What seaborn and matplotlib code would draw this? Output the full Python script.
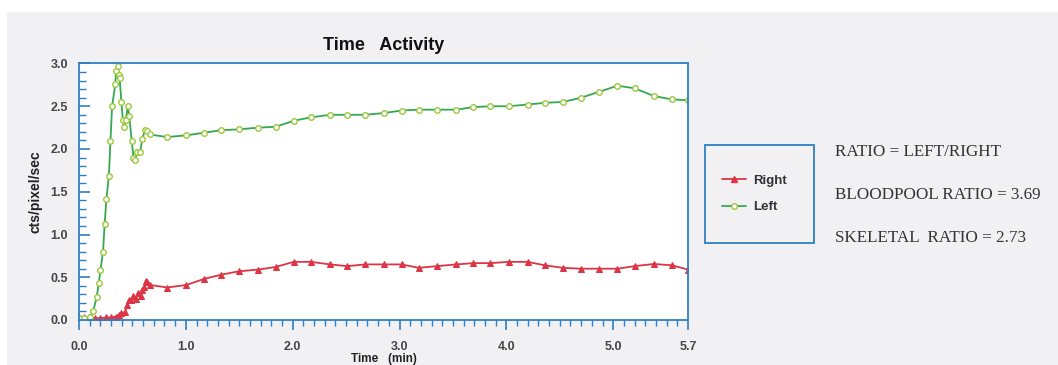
import numpy as np
import pandas as pd
import seaborn as sns
import matplotlib
matplotlib.use("Agg")
import matplotlib.pyplot as plt
from matplotlib.patches import Rectangle
from matplotlib.lines import Line2D
from matplotlib.ticker import MultipleLocator, FixedLocator

# Time-activity curves (cts/pixel/sec vs minutes)
t_left = [0.00, 0.05, 0.10, 0.134, 0.166, 0.185, 0.20, 0.225, 0.24, 0.256, 0.28,
          0.294, 0.31, 0.34, 0.347, 0.366, 0.372, 0.38, 0.397, 0.41, 0.42, 0.438,
          0.456, 0.47, 0.494, 0.51, 0.525, 0.544, 0.572, 0.594, 0.616, 0.64, 0.66,
          0.825, 1.006, 1.17, 1.33, 1.50, 1.68, 1.84, 2.01, 2.17, 2.35, 2.51, 2.68,
          2.85, 3.02, 3.18, 3.35, 3.53, 3.69, 3.85, 4.02, 4.20, 4.36, 4.53, 4.70,
          4.87, 5.04, 5.20, 5.38, 5.55, 5.70]
left = [0.02, 0.02, 0.03, 0.11, 0.27, 0.43, 0.58, 0.80, 1.12, 1.41, 1.69, 2.09,
        2.50, 2.76, 2.91, 2.97, 2.87, 2.83, 2.55, 2.34, 2.26, 2.34, 2.50, 2.39,
        2.09, 1.90, 1.87, 1.96, 1.97, 2.12, 2.22, 2.21, 2.17, 2.14, 2.16, 2.19,
        2.22, 2.23, 2.25, 2.26, 2.33, 2.37, 2.40, 2.40, 2.40, 2.42, 2.45, 2.46,
        2.46, 2.46, 2.49, 2.50, 2.50, 2.52, 2.54, 2.55, 2.60, 2.67, 2.74, 2.71,
        2.62, 2.58, 2.57]

t_right = [0.00, 0.05, 0.10, 0.15, 0.20, 0.25, 0.30, 0.35, 0.37, 0.39, 0.43, 0.45,
           0.47, 0.49, 0.51, 0.53, 0.556, 0.58, 0.587, 0.61, 0.625, 0.64, 0.665,
           0.825, 1.006, 1.17, 1.33, 1.50, 1.68, 1.84, 2.01, 2.17, 2.35, 2.51, 2.68,
           2.85, 3.02, 3.18, 3.35, 3.53, 3.69, 3.85, 4.02, 4.20, 4.36, 4.53, 4.70,
           4.87, 5.04, 5.20, 5.38, 5.55, 5.70]
right = [0.03, 0.03, 0.03, 0.02, 0.02, 0.03, 0.03, 0.04, 0.06, 0.08, 0.09, 0.18,
         0.23, 0.23, 0.28, 0.25, 0.31, 0.28, 0.35, 0.39, 0.46, 0.45, 0.41, 0.38,
         0.41, 0.48, 0.53, 0.57, 0.59, 0.62, 0.68, 0.68, 0.65, 0.63, 0.65, 0.65,
         0.65, 0.61, 0.63, 0.65, 0.665, 0.665, 0.68, 0.68, 0.64, 0.61, 0.60, 0.60,
         0.60, 0.63, 0.655, 0.64, 0.59]

x_major = [0.0, 1.0, 2.0, 3.0, 4.0, 5.0, 5.7]
x_labels = ["0.0", "1.0", "2.0", "3.0", "4.0", "5.0", "5.7"]
y_major = [0.0, 0.5, 1.0, 1.5, 2.0, 2.5, 3.0]
y_labels = ["0.0", "0.5", "1.0", "1.5", "2.0", "2.5", "3.0"]

ratio_lines = ["RATIO = LEFT/RIGHT", "BLOODPOOL RATIO = 3.69", "SKELETAL  RATIO = 2.73"]

sns.set_theme(style="white")
plt.rcParams["font.family"] = ["Liberation Sans", "DejaVu Sans"]

BLUE = "#2f7fc4"
GREEN = "#34a853"
GREEN_EDGE = "#9cc83c"
RED = "#dc3545"
BG = "#f1f1f3"
TICK_TXT = "#44444c"

W, H = 1058, 365
fig = plt.figure(figsize=(W / 100, H / 100), dpi=100, facecolor=BG)
# white paper margin along the top and left
fig.patches.append(Rectangle((0, (H - 12) / H), 1, 12 / H, transform=fig.transFigure,
                             facecolor="white", edgecolor="none", zorder=0))
fig.patches.append(Rectangle((0, 0), 7 / W, 1, transform=fig.transFigure,
                             facecolor="white", edgecolor="none", zorder=0))

ax = fig.add_axes([79 / W, 45 / H, (688 - 79) / W, (320 - 63.5) / H])
ax.set_facecolor("white")

df_r = pd.DataFrame({"time": t_right, "cts": right})
df_l = pd.DataFrame({"time": t_left, "cts": left})

sns.lineplot(data=df_r, x="time", y="cts", ax=ax, color=RED, lw=1.3, marker="^",
             markersize=4.5, markerfacecolor=RED, markeredgecolor=RED, sort=False)
sns.lineplot(data=df_l, x="time", y="cts", ax=ax, color=GREEN, lw=1.3, marker="o",
             markersize=4, markerfacecolor="white", markeredgecolor=GREEN_EDGE,
             markeredgewidth=1.0, sort=False)

ax.set_xlim(0, 5.7)
ax.set_ylim(0, 3.0)
for s in ax.spines.values():
    s.set_color(BLUE)
    s.set_linewidth(1.3)

ax.xaxis.set_major_locator(FixedLocator(x_major))
ax.set_xticklabels(x_labels)
ax.xaxis.set_minor_locator(MultipleLocator(0.1))
ax.yaxis.set_major_locator(FixedLocator(y_major))
ax.set_yticklabels(y_labels)
ax.yaxis.set_minor_locator(MultipleLocator(0.1))

ax.tick_params(axis="x", which="major", direction="out", length=7, width=1.2,
               color=BLUE, bottom=True, labelsize=9, labelcolor=TICK_TXT, pad=8)
ax.tick_params(axis="x", which="minor", direction="out", length=4, width=1.0,
               color=BLUE, bottom=True)
ax.tick_params(axis="y", which="major", direction="in", length=8, width=1.2,
               color=BLUE, left=True, labelsize=9, labelcolor=TICK_TXT, pad=8)
ax.tick_params(axis="y", which="minor", direction="in", length=5, width=1.0,
               color=BLUE, left=True)
for lab in ax.get_xticklabels() + ax.get_yticklabels():
    lab.set_fontweight("bold")

ax.set_title("Time   Activity", fontsize=13, fontweight="bold", color="#111111", pad=10)
ax.set_ylabel("cts/pixel/sec", fontsize=10, fontweight="bold", color="#222222", labelpad=6)
ax.set_xlabel("Time   (min)", fontsize=8.5, fontweight="bold", color="#222222", labelpad=0)

# legend box
fig.patches.append(Rectangle((705 / W, (H - 243) / H), (814 - 705) / W, (243 - 145) / H,
                             transform=fig.transFigure, facecolor="none",
                             edgecolor=BLUE, lw=1.3, zorder=3))
handles = [
    Line2D([], [], color=RED, lw=1.3, marker="^", markersize=4.5,
           markerfacecolor=RED, markeredgecolor=RED),
    Line2D([], [], color=GREEN, lw=1.3, marker="o", markersize=4,
           markerfacecolor="white", markeredgecolor=GREEN_EDGE),
]
leg = fig.legend(handles, ["Right", "Left"], loc="center left",
                 bbox_to_anchor=(710 / W, (H - 194) / H), frameon=False,
                 fontsize=9.5, handlelength=1.8, labelspacing=1.1, handletextpad=0.6)
for t in leg.get_texts():
    t.set_color("#333333")
    t.set_fontweight("semibold")

for i, line in enumerate(ratio_lines):
    fig.text(835 / W, (H - (152 + 43 * i)) / H, line, ha="left", va="center",
             fontsize=12.3, family=["Liberation Serif", "DejaVu Serif"], color="#333333")

fig.savefig("out.png", dpi=100, facecolor=BG)
